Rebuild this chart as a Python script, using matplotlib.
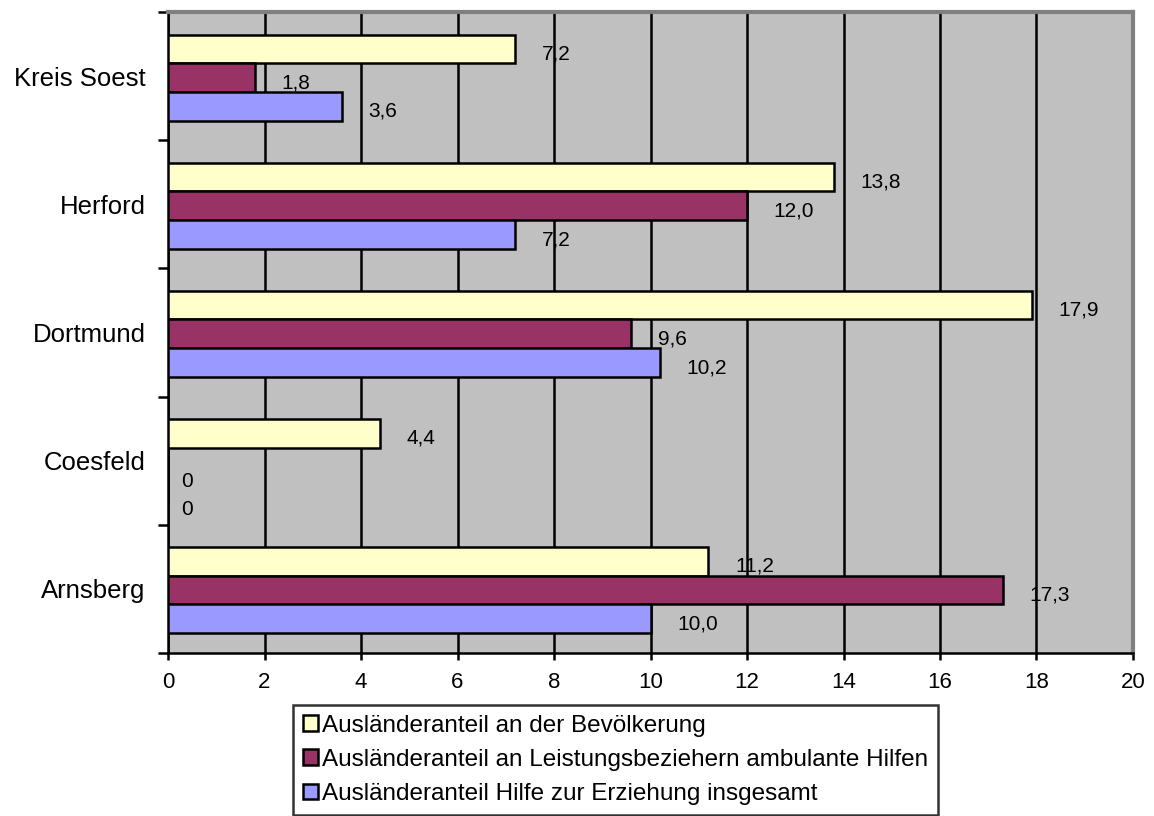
import numpy as np
import matplotlib.pyplot as plt
from matplotlib.patches import Patch

plt.rcParams["font.family"] = ["Liberation Sans", "DejaVu Sans"]

# Kreise von unten nach oben
kreise = ["Arnsberg", "Coesfeld", "Dortmund", "Herford", "Kreis Soest"]
bevoelkerung = [11.2, 4.4, 17.9, 13.8, 7.2]
ambulant = [17.3, 0.0, 9.6, 12.0, 1.8]
erziehung = [10.0, 0.0, 10.2, 7.2, 3.6]

serien = [
    ("Ausländeranteil an der Bevölkerung", bevoelkerung, "#FFFFCC"),
    ("Ausländeranteil an Leistungsbeziehern ambulante Hilfen", ambulant, "#993366"),
    ("Ausländeranteil Hilfe zur Erziehung insgesamt", erziehung, "#9999FF"),
]

fig = plt.figure(figsize=(11.54, 8.16), dpi=100)
ax = fig.add_axes([0.1456, 0.2, 0.8362, 0.785])
ax.set_facecolor("#C0C0C0")

y = np.arange(len(kreise))
h = 0.224
handles = []
for i, (name, werte, farbe) in enumerate(serien):
    pos = y + h * (1 - i) - 0.01
    ax.barh(pos, werte, height=h, color=farbe, edgecolor="black", linewidth=1.8, zorder=3)
    for p, w in zip(pos, werte):
        if w == 0:
            ax.text(0.27, p - 0.15, "0", ha="left", va="center", fontsize=15, zorder=4)
        else:
            txt = f"{w:.1f}".replace(".", ",")
            ax.text(w + 0.55, p - 0.04, txt, ha="left", va="center", fontsize=15, zorder=4)
    handles.append(Patch(facecolor=farbe, edgecolor="black", linewidth=1.8, label=name))

ax.set_xlim(0, 20)
ax.set_ylim(-0.5, len(kreise) - 0.5)
ax.set_xticks(np.arange(0, 21, 2))
ax.set_yticks(y)
ax.set_yticklabels(kreise)
ax.set_yticks(np.arange(-0.5, len(kreise), 1), minor=True)
ax.tick_params(axis="y", which="major", length=0, pad=16, labelsize=18.5)
ax.tick_params(axis="y", which="minor", length=7, width=1.8, direction="out")
ax.tick_params(axis="x", length=5, width=1.8, direction="out", pad=9, labelsize=16)

ax.grid(axis="x", color="black", linewidth=1.8, zorder=1)
ax.set_axisbelow(True)
for s in ["left", "bottom"]:
    ax.spines[s].set_linewidth(1.8)
for s in ["top", "right"]:
    ax.spines[s].set_color("#808080")
    ax.spines[s].set_linewidth(3)

leg = fig.legend(handles=handles, loc="upper left", bbox_to_anchor=(0.2539, 0.136),
                 fontsize=17.5, frameon=True, fancybox=False, edgecolor="black",
                 handlelength=0.62, handleheight=0.62, handletextpad=0.17,
                 labelspacing=0.5, borderpad=0.4, borderaxespad=0)
leg.get_frame().set_linewidth(1.8)

fig.savefig("out.png", dpi=100)
